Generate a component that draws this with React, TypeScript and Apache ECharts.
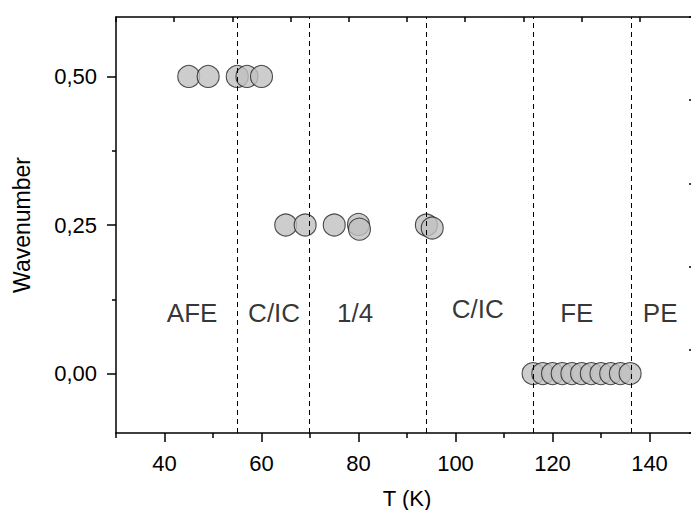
import React, { useEffect, useRef } from "react";
import * as echarts from "echarts";

// Axis ticks
const xMajorTicks = [40, 60, 80, 100, 120, 140];
const xMinorTicks = [30, 50, 70, 90, 110, 130, 150];
const yMajorTicks = [0, 0.25, 0.5];
const yMinorTicks = [0.125, 0.375];

// Measured points (T in K, wavenumber)
const halfT = [45, 49, 55, 57, 60];
const halfQ = [0.5, 0.5, 0.5, 0.5, 0.5];
const quarterT = [65, 69, 75, 80, 80.2, 94, 95.2];
const quarterQ = [0.25, 0.25, 0.25, 0.251, 0.243, 0.25, 0.245];
const zeroT = [116, 118, 120, 122, 124, 126, 128, 130, 132, 134, 136];
const zeroQ = [0, 0, 0, 0, 0, 0, 0, 0, 0, 0, 0];

// Phase boundaries and phase names
const boundaries = [55, 69.8, 94, 116, 136.3];
const phaseNames = ["AFE", "C/IC", "1/4", "C/IC", "FE", "PE"];
const phaseT = [45.7, 62.6, 79.3, 104.6, 125, 142.2];
const phaseQ = [0.102, 0.102, 0.102, 0.108, 0.102, 0.102];

const FONT = "Liberation Sans, Arial, sans-serif";

export default function App() {
  const ref = useRef<HTMLDivElement>(null);

  useEffect(() => {
    if (!ref.current) return;
    const chart = echarts.init(ref.current, undefined, { renderer: "svg" });

    const pts: number[][] = [];
    halfT.forEach((t, i) => pts.push([t, halfQ[i]]));
    quarterT.forEach((t, i) => pts.push([t, quarterQ[i]]));
    zeroT.forEach((t, i) => pts.push([t, zeroQ[i]]));

    const lineStyle = { color: "#000", width: 1.5 };

    chart.setOption({
      animation: false,
      backgroundColor: "#fff",
      grid: {
        left: 116,
        top: 17,
        width: 582,
        height: 416,
        containLabel: false,
        outerBoundsMode: "none",
      },
      xAxis: [
        {
          type: "value",
          position: "bottom",
          min: 30,
          max: 150,
          name: "T (K)",
          nameLocation: "middle",
          nameGap: 54,
          nameTextStyle: { fontFamily: FONT, fontSize: 22, color: "#000" },
          axisLine: { show: true, onZero: false, lineStyle },
          axisTick: { show: true, length: 9, lineStyle, customValues: xMajorTicks },
          axisLabel: {
            show: true,
            customValues: xMajorTicks,
            margin: 19,
            fontFamily: FONT,
            fontSize: 22,
            color: "#000",
          },
          splitLine: { show: false },
        },
        {
          type: "value",
          position: "bottom",
          min: 30,
          max: 150,
          axisLine: { show: false, onZero: false },
          axisTick: { show: true, length: 5, lineStyle, customValues: xMinorTicks },
          axisLabel: { show: false },
          splitLine: { show: false },
        },
        {
          type: "value",
          position: "top",
          min: 0,
          max: 10,
          interval: 1,
          axisLine: { show: true, onZero: false, lineStyle },
          axisTick: { show: true, inside: true, length: 5, lineStyle },
          axisLabel: { show: false },
          splitLine: { show: false },
        },
      ],
      yAxis: [
        {
          type: "value",
          position: "left",
          min: -0.1,
          max: 0.6,
          name: "Wavenumber",
          nameLocation: "middle",
          nameGap: 83,
          nameTextStyle: { fontFamily: FONT, fontSize: 23, color: "#000" },
          axisLine: { show: true, onZero: false, lineStyle },
          axisTick: { show: true, length: 9, lineStyle, customValues: yMajorTicks },
          axisLabel: {
            show: true,
            customValues: yMajorTicks,
            margin: 19,
            fontFamily: FONT,
            fontSize: 22,
            color: "#000",
            formatter: (v: number) => v.toFixed(2).replace(".", ","),
          },
          splitLine: { show: false },
        },
        {
          type: "value",
          position: "left",
          min: -0.1,
          max: 0.6,
          axisLine: { show: false, onZero: false },
          axisTick: { show: true, length: 4, lineStyle, customValues: yMinorTicks },
          axisLabel: { show: false },
          splitLine: { show: false },
        },
        {
          type: "value",
          position: "right",
          min: 0,
          max: 5,
          interval: 1,
          axisLine: { show: true, onZero: false, lineStyle },
          axisTick: { show: true, inside: true, length: 9, lineStyle },
          axisLabel: { show: false },
          splitLine: { show: false },
        },
      ],
      series: [
        {
          type: "scatter",
          xAxisIndex: 0,
          yAxisIndex: 0,
          symbol: "circle",
          symbolSize: 22,
          itemStyle: { color: "#c0c0c0", borderColor: "#222", borderWidth: 1.1 },
          data: pts,
          z: 2,
          markLine: {
            silent: true,
            symbol: ["none", "none"],
            label: { show: false },
            lineStyle: { color: "#000", width: 1, type: [5, 4] },
            data: boundaries.map((b) => ({ xAxis: b })),
          },
        },
        {
          type: "scatter",
          xAxisIndex: 0,
          yAxisIndex: 0,
          symbolSize: 0,
          silent: true,
          z: 3,
          label: {
            show: true,
            position: "inside",
            formatter: "{b}",
            fontFamily: FONT,
            fontSize: 26,
            color: "#000",
          },
          data: phaseNames.map((n, i) => ({ name: n, value: [phaseT[i], phaseQ[i]] })),
        },
      ],
    });

    return () => chart.dispose();
  }, []);

  return (
    <div
      ref={ref}
      style={{ position: "fixed", left: 0, top: 0, width: 710, height: 510, background: "#fff" }}
    />
  );
}
